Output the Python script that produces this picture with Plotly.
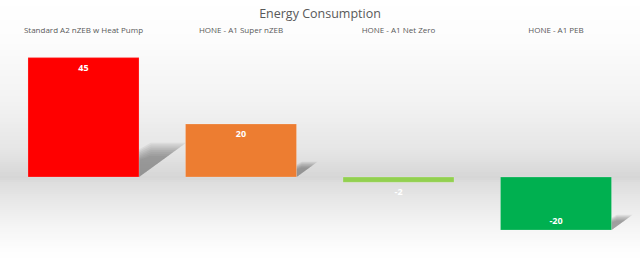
import plotly.graph_objects as go
import numpy as np

categories = ["Standard A2 nZEB w Heat Pump", "HONE - A1 Super nZEB", "HONE - A1 Net Zero", "HONE - A1 PEB"]
values = [45, 20, -2, -20]
colors = ["#FF0000", "#ED7D31", "#92D050", "#00B050"]
text_positions = ["inside", "inside", "outside", "inside"]

W, H = 640, 261
T, B = 40, 0
plot_h = H - T - B

fig = go.Figure()
fig.add_trace(go.Bar(
    x=categories, y=values,
    marker=dict(color=colors, line=dict(color="rgba(255,255,255,0.35)", width=0.6)),
    text=[str(v) for v in values],
    textposition=text_positions,
    insidetextanchor="end",
    textfont=dict(family="Open Sans", size=9, color="white", weight="bold"),
    cliponaxis=False,
    hoverinfo="skip",
))

shapes = []
# background vertical gradient (white -> gray at floor -> white)
stops_py = [0, 40, 100, 150, 172, 178, 183, 205, 230, 250, 261]
stops_c = [255, 252, 243, 230, 217, 214, 222, 234, 246, 253, 255]
step = 2
for py in range(0, H, step):
    c = int(round(np.interp(py + step / 2, stops_py, stops_c)))
    y0 = (H - B - (py + step)) / plot_h
    y1 = (H - B - py) / plot_h
    shapes.append(dict(type="rect", xref="paper", yref="paper", x0=0, x1=1,
                       y0=y0, y1=y1, fillcolor=f"rgb({c},{c},{c})",
                       line=dict(width=0), layer="below"))

# soft, blurred shadows to the right of each bar's lower end
half_w = (1 - 0.295) / 2
layers = np.linspace(1.15, 0.7, 8)
for i, v in enumerate(values):
    if abs(v) < 5:
        continue
    base = min(0, v)
    xr = i + half_w
    for scale in layers:
        dx = 0.0058 * abs(v) * scale
        sh = 0.25 * abs(v) * scale
        inset = 0.3 * dx * (1.15 - scale)
        path = (f"M {xr},{base} L {xr + dx},{base + sh} "
                f"L {xr + inset + 0.25 * dx},{base + sh} L {xr},{base + sh * 0.8} Z")
        shapes.append(dict(type="path", xref="x", yref="y", path=path,
                           fillcolor="rgba(100,100,100,0.095)",
                           line=dict(width=0), layer="below"))

px_per_unit = 2.653
zero_py = 177
ymax = (zero_py - T) / px_per_unit
ymin = -(H - B - zero_py) / px_per_unit
cat_px = 157.5
first_c = 83.5

fig.update_layout(
    width=W, height=H,
    margin=dict(l=0, r=0, t=T, b=B, pad=0),
    paper_bgcolor="white", plot_bgcolor="rgba(0,0,0,0)",
    title=dict(text="Energy Consumption", x=0.5, xanchor="center",
               y=1 - 14 / H, yanchor="middle", yref="container",
               font=dict(family="Open Sans", size=12.5, color="#595959")),
    bargap=0.295,
    showlegend=False,
    shapes=shapes,
    xaxis=dict(side="top", range=[-first_c / cat_px, (W - first_c) / cat_px],
               showgrid=False, zeroline=False, showline=False, ticks="",
               ticklabelstandoff=4,
               tickfont=dict(family="Open Sans", size=8, color="#595959"),
               fixedrange=True),
    yaxis=dict(visible=False, range=[ymin, ymax], showgrid=False, zeroline=False,
               fixedrange=True),
)

fig.write_html("out.html", config={"displayModeBar": False})
